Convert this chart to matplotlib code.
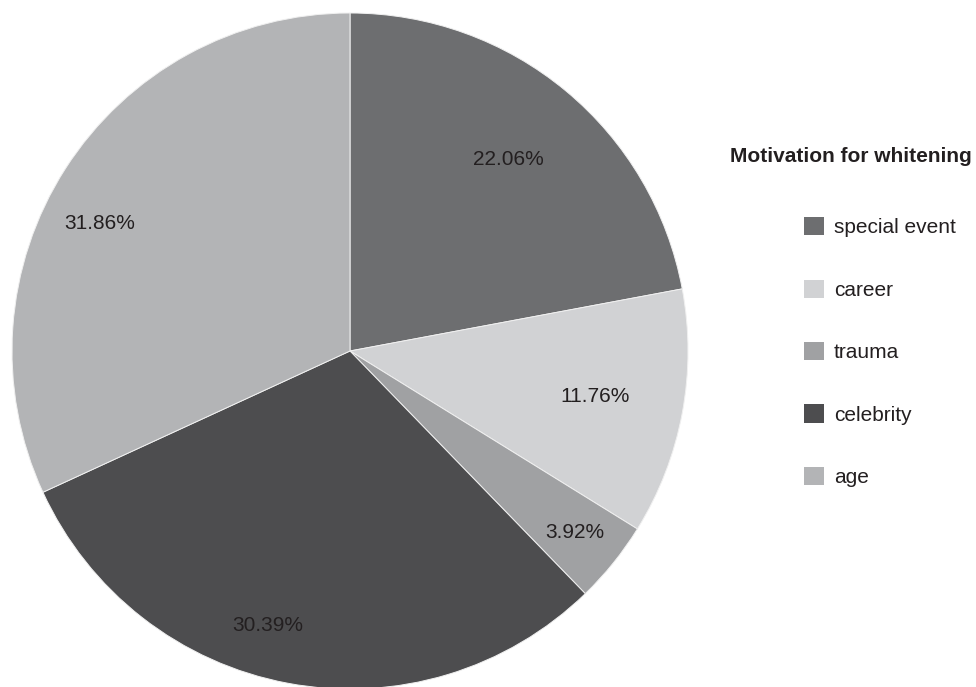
import matplotlib.pyplot as plt
import matplotlib.patches as mpatches
import numpy as np

plt.rcParams['font.family'] = ['Liberation Sans', 'DejaVu Sans']

categories = ["special event", "career", "trauma", "celebrity", "age"]
counts = [45, 24, 8, 62, 65]   # out of 204 respondents
colors = ["#6d6e70", "#d1d2d4", "#a0a1a3", "#4d4d4f", "#b3b4b6"]
legend_title = "Motivation for whitening"

# label placement: radius as fraction of pie radius, small angle nudge in degrees
label_radius = [0.735, 0.737, 0.855, 0.849, 0.83]
label_nudge = [0, 0, 0, -6.1, 5.6]

text_color = "#231f20"

fig = plt.figure(figsize=(9.76, 6.87), dpi=100)
W, H = 976, 687
R = 338
cx, cy = 350, 351
ax = fig.add_axes([(cx - R) / W, 1 - (cy + R) / H, 2 * R / W, 2 * R / H])

wedges, _ = ax.pie(counts, colors=colors, startangle=90, counterclock=False,
                   radius=1.0, wedgeprops=dict(edgecolor="#f0f0f0", linewidth=0.7))
ax.set_xlim(-1, 1)
ax.set_ylim(-1, 1)
ax.set_aspect("equal")
ax.axis("off")

total = sum(counts)
for w, c, r, d in zip(wedges, counts, label_radius, label_nudge):
    mid = np.deg2rad((w.theta1 + w.theta2) / 2 + d)
    ax.text(r * np.cos(mid), r * np.sin(mid), f"{100 * c / total:.2f}%",
            ha="center", va="center", fontsize=15, color=text_color)

fig.text(972 / W, 1 - 156 / H, legend_title, ha="right", va="center",
         fontsize=15, fontweight="bold", color=text_color)

handles = [mpatches.Patch(facecolor=col, edgecolor="none") for col in colors]
fig.legend(handles, categories, loc="upper left",
           bbox_to_anchor=(804 / W, 1 - 217 / H), frameon=False,
           fontsize=15, handlelength=0.96, handleheight=0.96,
           handletextpad=0.48, labelspacing=2.03, borderpad=0, borderaxespad=0,
           labelcolor=text_color)

fig.savefig("out.png", dpi=100)
